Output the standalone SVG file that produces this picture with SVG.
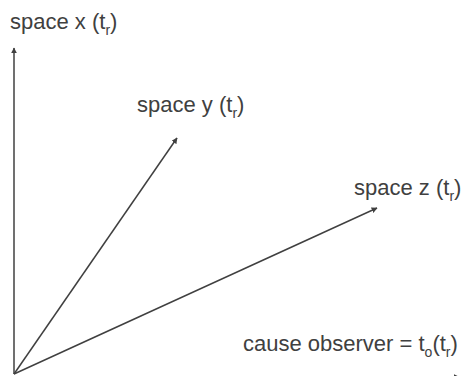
<svg xmlns="http://www.w3.org/2000/svg" width="461" height="376" viewBox="0 0 461 376">
<style>
.t{font-family:"Liberation Sans",Arial,sans-serif;font-size:22px;fill:#404040}
.s{font-size:14px}
.c{stroke:#404040;stroke-width:1.5;fill:none}
</style>
<defs>
<marker id="a" viewBox="0 0 10 10" refX="9" refY="5" markerWidth="6" markerHeight="6" orient="auto" markerUnits="userSpaceOnUse"><path d="M0,0 L10,5 L0,10 z" fill="#404040"/></marker>
</defs>
<rect width="461" height="376" fill="#fff"/>
<g id="connectors">
<line class="c" x1="14" y1="374" x2="14" y2="48" marker-end="url(#a)"/>
<line class="c" x1="14" y1="374" x2="177" y2="138" marker-end="url(#a)"/>
<line class="c" x1="14" y1="374" x2="377" y2="208" marker-end="url(#a)"/>
<line class="c" x1="14" y1="377" x2="459" y2="377" marker-end="url(#a)"/>
</g>
<g id="x"><text class="t" x="10" y="29">space x (t<tspan class="s" dy="6">r</tspan><tspan dy="-6">)</tspan></text></g>
<g id="y"><text class="t" x="137" y="112">space y (t<tspan class="s" dy="6">r</tspan><tspan dy="-6">)</tspan></text></g>
<g id="z"><text class="t" x="354" y="195">space z (t<tspan class="s" dy="6">r</tspan><tspan dy="-6">)</tspan></text></g>
<g id="cause"><text class="t" x="243" y="351">cause observer = t<tspan class="s" dy="6">o</tspan><tspan dy="-6">(t</tspan><tspan class="s" dy="6">r</tspan><tspan dy="-6">)</tspan></text></g>
</svg>
